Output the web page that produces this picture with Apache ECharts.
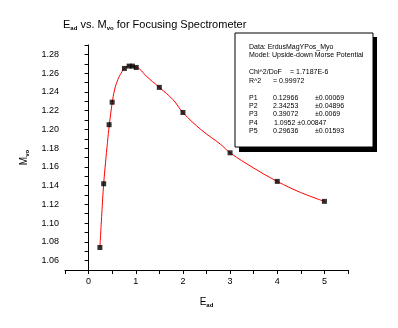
<!DOCTYPE html>
<html>
<head>
<meta charset="utf-8">
<script src="https://cdn.jsdelivr.net/npm/echarts@6/dist/echarts.min.js"></script>
<style>html,body{margin:0;padding:0;background:#fff}#c{width:398px;height:328px}</style>
</head>
<body>
<div id="c"></div>
<script>
// Measured data points (E_ad, M_vo)
var pointX = [0.24, 0.32, 0.435, 0.5, 0.76, 0.86, 0.93, 1.01, 1.5, 2.0, 3.0, 4.0, 5.0];
var pointY = [1.074, 1.142, 1.205, 1.229, 1.265, 1.2675, 1.2675, 1.266, 1.2448, 1.218, 1.175, 1.1445, 1.1232];
// Fit curve
var curveX = [0.24, 0.28, 0.32, 0.36, 0.40, 0.44, 0.50, 0.55, 0.62, 0.69, 0.76, 0.87, 1.0, 1.08, 1.22, 1.5, 1.79, 2.0, 2.4, 2.79, 3.0, 3.5, 4.0, 4.49, 5.0];
var curveY = [1.074, 1.110, 1.142, 1.165, 1.186, 1.205, 1.228, 1.242, 1.253, 1.260, 1.265, 1.268, 1.266, 1.2645, 1.257, 1.2448, 1.2317, 1.218, 1.199, 1.1844, 1.175, 1.1588, 1.1445, 1.1328, 1.1232];
// Fit report lines
var reportHead = ['Data: ErdusMagYPos_Myo', 'Model: Upside-down Morse Potential'];
var reportStats = [['Chi^2/DoF', '= 1.7187E-6'], ['R^2', '= 0.99972']];
var paramNames = ['P1', 'P2', 'P3', 'P4', 'P5'];
var paramValues = ['0.12966', '2.34253', '0.39072', '1.0952', '0.29636'];
var paramErrors = ['\u00b10.00069', '\u00b10.04896', '\u00b10.0069', '\u00b10.00847', '\u00b10.01593'];

var chart = echarts.init(document.getElementById('c'));
var font = 'Liberation Sans, Arial, sans-serif';
var pts = pointX.map(function (x, i) { return [x, pointY[i]]; });
var crv = curveX.map(function (x, i) { return [x, curveY[i]]; });

var graphics = [
  { type: 'rect', shape: { x: 239, y: 37, width: 138, height: 115 }, style: { fill: '#000' }, z: 10 },
  { type: 'rect', shape: { x: 235, y: 33, width: 138, height: 114 }, style: { fill: '#fff', stroke: '#000', lineWidth: 1 }, z: 11 }
];
function addText(x, y, t) {
  graphics.push({ type: 'text', x: x, y: y, z: 12, style: { text: t, fill: '#000', font: '7px ' + font, textVerticalAlign: 'middle' } });
}
addText(249, 47, reportHead[0]);
addText(249, 55, reportHead[1]);
addText(249, 72.5, reportStats[0][0]); addText(290, 72.5, reportStats[0][1]);
addText(249, 81.5, reportStats[1][0]); addText(273, 81.5, reportStats[1][1]);
var py = [98, 106, 114.5, 123, 131.5];
for (var i = 0; i < 5; i++) {
  addText(249, py[i], paramNames[i]);
  if (i === 3) { addText(274, py[i], paramValues[i] + ' ' + paramErrors[i]); }
  else { addText(273, py[i], paramValues[i]); addText(315, py[i], paramErrors[i]); }
}

chart.setOption({
  animation: false,
  backgroundColor: '#fff',
  title: {
    text: 'E{s|ad} vs. M{s|vo} for Focusing Spectrometer',
    left: 63, top: 19, padding: 0,
    textStyle: { fontFamily: font, fontSize: 11, fontWeight: 'normal', color: '#000',
      rich: { s: { fontFamily: font, fontSize: 6, fontWeight: 'bold', verticalAlign: 'bottom', padding: [6, 0, 0, 0], color: '#000' } } }
  },
  grid: { left: 65, right: 50, top: 45, bottom: 58 },
  xAxis: {
    type: 'value', min: -0.5, max: 5.5, interval: 0.5,
    name: 'E{s|ad}', nameLocation: 'middle', nameGap: 26,
    nameTextStyle: { fontFamily: font, fontSize: 10, color: '#000',
      rich: { s: { fontFamily: font, fontSize: 6, fontWeight: 'bold', padding: [6, 0, 0, 0], color: '#000' } } },
    axisLine: { lineStyle: { color: '#000', width: 1 } },
    axisTick: { length: 4, lineStyle: { color: '#000' } },
    axisLabel: { fontFamily: font, fontSize: 9, color: '#000', margin: 7,
      formatter: function (v) { return Math.abs(v - Math.round(v)) < 1e-6 ? String(Math.round(v)) : ''; } },
    splitLine: { show: false }
  },
  yAxis: {
    type: 'value', min: 1.05, max: 1.29, interval: 0.01,
    name: 'M{s|vo}', nameLocation: 'middle', nameGap: 28, nameRotate: 90,
    nameTextStyle: { fontFamily: font, fontSize: 10, color: '#000',
      rich: { s: { fontFamily: font, fontSize: 6, fontWeight: 'bold', padding: [6, 0, 0, 0], color: '#000' } } },
    axisLine: { show: true, lineStyle: { color: '#000', width: 1 } },
    axisTick: { show: true, length: 4, lineStyle: { color: '#000' } },
    axisLabel: { fontFamily: font, fontSize: 9, color: '#000', margin: 6,
      formatter: function (v) { var k = Math.round(v * 100); return k % 2 === 0 ? (k / 100).toFixed(2) : ''; } },
    splitLine: { show: false }
  },
  series: [
    { type: 'line', data: crv, smooth: 0.4, showSymbol: false, symbol: 'none',
      lineStyle: { color: '#ff0000', width: 1 }, z: 2 },
    { type: 'scatter', data: pts, symbol: 'rect', symbolSize: 5,
      itemStyle: { color: '#000' }, z: 3 }
  ],
  graphic: graphics
});
</script>
</body>
</html>
